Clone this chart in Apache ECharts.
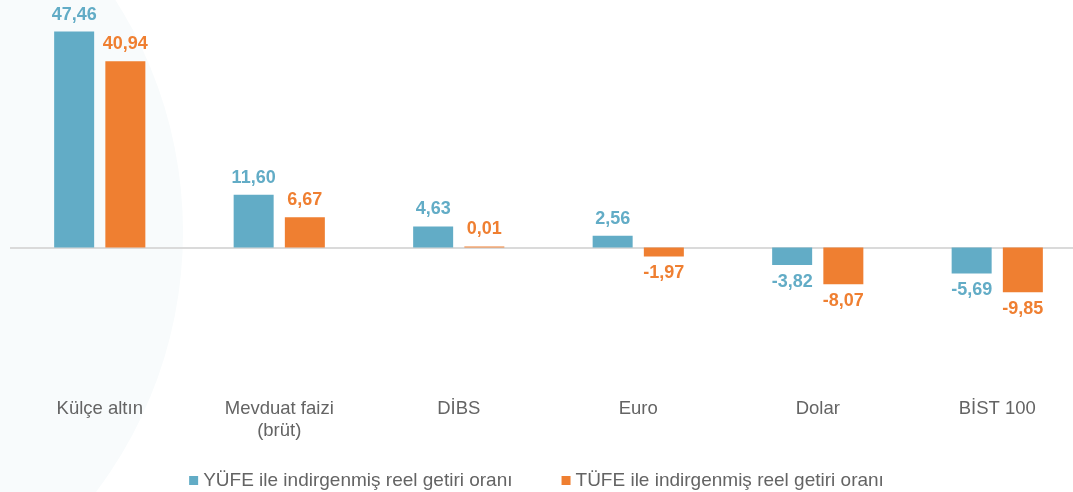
<!DOCTYPE html>
<html>
<head>
<meta charset="utf-8">
<script src="https://cdn.jsdelivr.net/npm/echarts@6/dist/echarts.min.js"></script>
<style>
  html, body { margin: 0; padding: 0; background: #fff; }
  #main { width: 1073px; height: 492px; }
</style>
</head>
<body>
<div id="main"></div>
<script>
const categories = ["Külçe altın", "Mevduat faizi\n(brüt)", "DİBS", "Euro", "Dolar", "BİST 100"];
const yufeValues = [47.46, 11.60, 4.63, 2.56, -3.82, -5.69];
const tufeValues = [40.94, 6.67, 0.01, -1.97, -8.07, -9.85];
const seriesNames = ["YÜFE ile indirgenmiş reel getiri oranı", "TÜFE ile indirgenmiş reel getiri oranı"];

const BLUE = "#62acc6";
const ORANGE = "#ef7f31";
const TEXT = "#646464";

const myChart = echarts.init(document.getElementById("main"), null, { renderer: "canvas" });

// negatif değerlerde etiket çubuğun altına
const toData = (values) =>
  values.map((v) => ({
    value: v,
    label: { position: v < 0 ? "bottom" : "top" },
  }));

const fmt = (p) => p.value.toFixed(2).replace(".", ",");

const makeSeries = (name, values, color) => ({
  name: name,
  type: "bar",
  data: toData(values),
  barWidth: 40,
  barGap: "28%",
  barMinHeight: 1,
  itemStyle: { color: color },
  label: {
    show: true,
    distance: 8,
    color: color,
    fontFamily: "Liberation Sans",
    fontWeight: "bold",
    fontSize: 18,
    formatter: fmt,
  },
  z: 3,
});

const yufe = makeSeries(seriesNames[0], yufeValues, BLUE);
const tufe = makeSeries(seriesNames[1], tufeValues, ORANGE);

// sıfır çizgisi
yufe.markLine = {
  silent: true,
  symbol: "none",
  label: { show: false },
  lineStyle: { color: "#dadada", width: 2, type: "solid" },
  data: [{ yAxis: 0 }],
  z: 1,
};

const option = {
  animation: false,
  backgroundColor: "#fff",
  graphic: [
    {
      type: "circle",
      shape: { cx: -249, cy: 232, r: 432 },
      style: { fill: "#f8fbfc" },
      z: -10,
      silent: true,
    },
  ],
  grid: {
    left: 10,
    right: -14,
    top: 20,
    bottom: 108,
    outerBoundsMode: "none",
  },
  legend: {
    top: 466,
    left: "center",
    icon: "rect",
    itemWidth: 9,
    itemHeight: 9,
    itemGap: 49,
    textStyle: { color: TEXT, fontFamily: "Liberation Sans", fontSize: 19 },
    data: seriesNames,
  },
  xAxis: {
    type: "category",
    data: categories,
    axisLine: { show: false, onZero: false },
    axisTick: { show: false },
    axisLabel: {
      color: TEXT,
      fontFamily: "Liberation Sans",
      fontSize: 18.5,
      lineHeight: 22,
      margin: 14,
    },
  },
  yAxis: {
    type: "value",
    min: -30,
    max: 50,
    show: false,
    splitLine: { show: false },
  },
  series: [yufe, tufe],
};

option && myChart.setOption(option);
</script>
</body>
</html>
